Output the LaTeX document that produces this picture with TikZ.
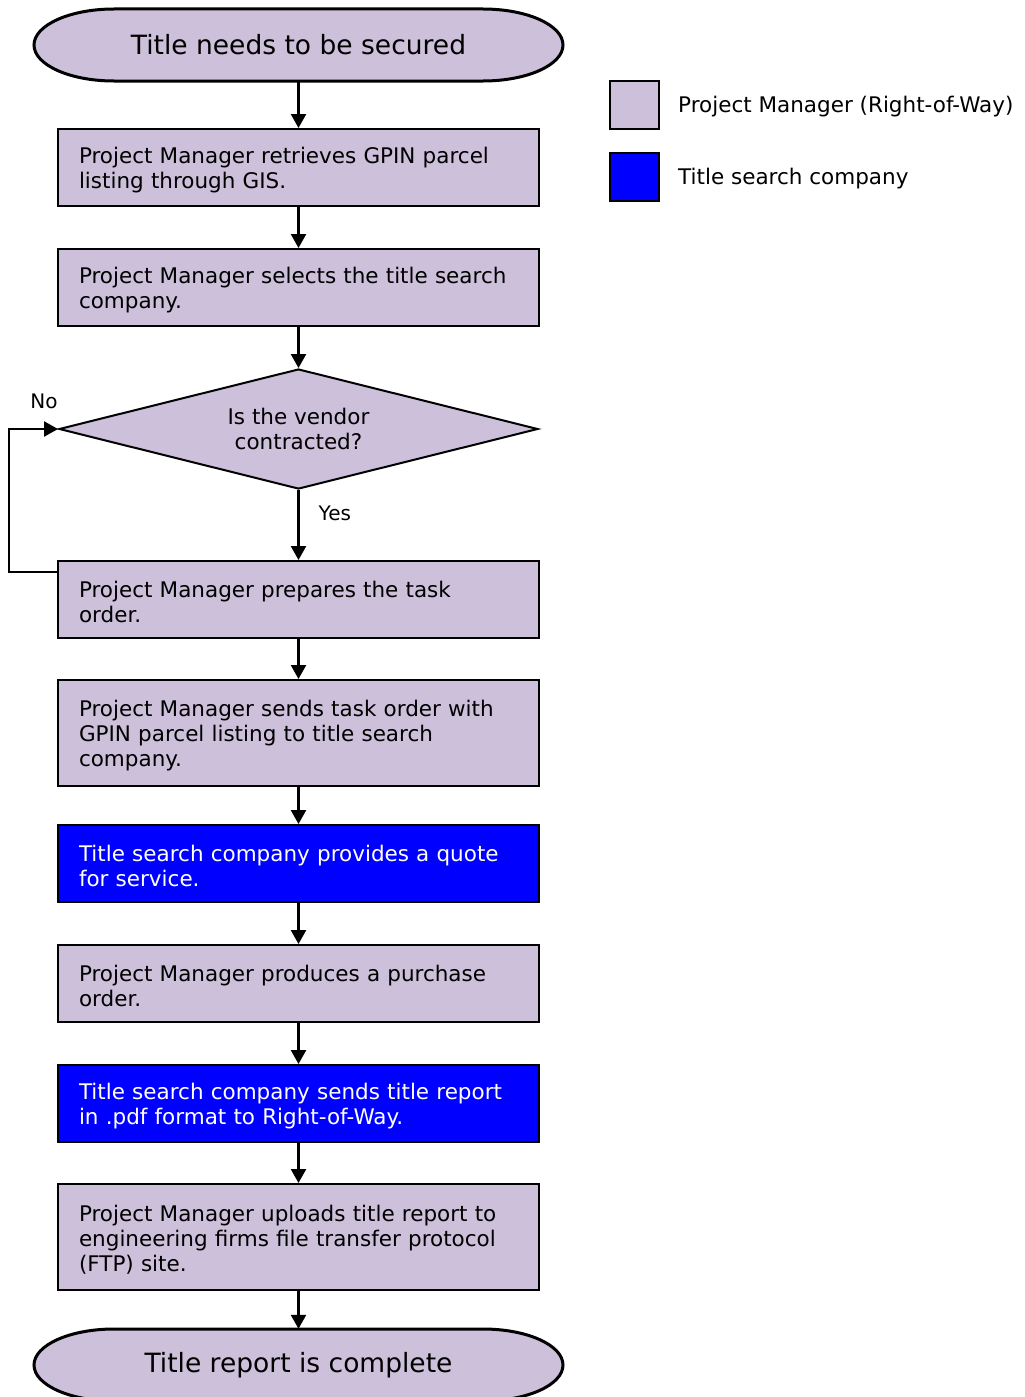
\documentclass[tikz,border=0pt]{standalone}
\usepackage{fontspec}
\setmainfont{DejaVu Sans}
\usetikzlibrary{arrows.meta,shapes.geometric,calc}
\definecolor{pmfill}{HTML}{CCC0DA}
\definecolor{tsfill}{HTML}{0000FF}
\begin{document}
\begin{tikzpicture}[x=1pt,y=-1pt,
  base/.style={font=\fontsize{21.5}{25}\selectfont},
  stepbox/.style={base, draw=black, line width=2pt, fill=pmfill,
    minimum width=481pt, minimum height=77pt, text width=439pt,
    inner xsep=21pt, inner ysep=0pt, align=left,
    execute at begin node={\rule{0pt}{22pt}}},
  tallbox/.style={stepbox, minimum height=106pt},
  vendorbox/.style={stepbox, fill=tsfill, text=white},
  termtext/.style={font=\fontsize{26.5}{30}\selectfont,
    minimum width=529pt, minimum height=72pt, inner sep=0pt},
  termline/.style={draw=black, line width=3pt, fill=pmfill},
  flow/.style={line width=2.4pt, -{Triangle[length=14pt,width=15pt]}},
  decision/.style={base, diamond, aspect=4, draw=black, line width=2pt,
    fill=pmfill, minimum width=479pt, minimum height=120pt,
    inner sep=0pt, align=center,
    execute at begin node={\rule{0pt}{20pt}}},
  tag/.style={font=\fontsize{20}{24}\selectfont, inner sep=0pt},
  swatch/.style={draw=black, line width=2pt, minimum width=49pt,
    minimum height=48pt, inner sep=0pt}
]
\useasboundingbox (0,0) rectangle (1025,1397);

% terminator outlines (elliptical ends)
\draw[termline] (114,9) -- (483,9)
  arc[start angle=-90,end angle=90,x radius=80,y radius=36] -- (114,81)
  arc[start angle=90,end angle=270,x radius=80,y radius=36] -- cycle;
\draw[termline] (114,1329) -- (483,1329)
  arc[start angle=-90,end angle=90,x radius=80,y radius=36] -- (114,1401)
  arc[start angle=90,end angle=270,x radius=80,y radius=36] -- cycle;

\node[termtext] (start) at (298.5,45) {Title needs to be secured};
\node[stepbox] (b1) at (298.5,167.5) {Project Manager retrieves GPIN parcel\\listing through GIS.};
\node[stepbox] (b2) at (298.5,287.5) {Project Manager selects the title search\\company.};
\node[decision] (vendor) at (298.5,429) {Is the vendor\\contracted?};
\node[stepbox] (b3) at (298.5,599.5) {Project Manager prepares the task\\order.};
\node[tallbox] (b4) at (298.5,733) {Project Manager sends task order with\\GPIN parcel listing to title search\\company.};
\node[vendorbox] (b5) at (298.5,863.5) {Title search company provides a quote\\for service.};
\node[stepbox] (b6) at (298.5,983.5) {Project Manager produces a purchase\\order.};
\node[vendorbox] (b7) at (298.5,1103.5) {Title search company sends title report\\in .pdf format to Right-of-Way.};
\node[tallbox] (b8) at (298.5,1237) {Project Manager uploads title report to\\engineering firms file transfer protocol\\(FTP) site.};
\node[termtext] (finish) at (298.5,1365) {Title report is complete};

% main flow
\draw[flow] (start.south) -- (b1.north);
\draw[flow] (b1.south) -- (b2.north);
\draw[flow] (b2.south) -- (vendor.north);
\draw[flow] (vendor.south) -- node[tag, right=19pt, pos=0.33] (yes) {Yes} (b3.north);
\draw[flow] (b3.south) -- (b4.north);
\draw[flow] (b4.south) -- (b5.north);
\draw[flow] (b5.south) -- (b6.north);
\draw[flow] (b6.south) -- (b7.north);
\draw[flow] (b7.south) -- (b8.north);
\draw[flow] (b8.south) -- (finish.north);

% loop back when the vendor is not contracted
\coordinate (loop) at ($(b3.north west)+(0,12)$);
\draw[flow] (loop) -- ++(-48,0) |- (vendor.west);
\node[tag] (no) at (44,401) {No};

% legend
\node[swatch, fill=pmfill] (k1) at (634.5,105) {};
\node[base, anchor=west, inner sep=0pt] (k1t) at (678,107) {Project Manager (Right-of-Way)};
\node[swatch, fill=tsfill] (k2) at (634.5,177) {};
\node[base, anchor=west, inner sep=0pt] (k2t) at (678,179) {Title search company};
\end{tikzpicture}
\end{document}
